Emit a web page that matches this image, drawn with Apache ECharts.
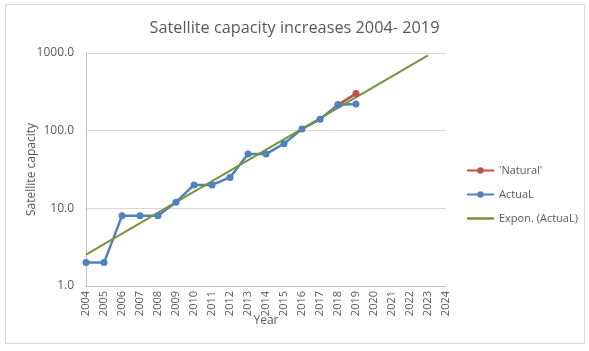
<!DOCTYPE html>
<html>
<head>
    <meta charset="utf-8" />
    <title>Satellite capacity</title>
    <script src="https://cdn.jsdelivr.net/npm/echarts@6/dist/echarts.min.js"></script>
    <style>
        html, body { margin: 0; padding: 0; background: #fff; }
        #EChart { width: 589px; height: 351px; }
    </style>
</head>
<body>
    <div id="EChart"></div>
    <script type="text/javascript">
        // data
        var years = [2004, 2005, 2006, 2007, 2008, 2009, 2010, 2011, 2012, 2013, 2014, 2015, 2016, 2017, 2018, 2019];
        var actual = [2, 2, 8, 8, 8, 12, 20, 20, 25, 50, 50, 68, 105, 140, 215, 220];
        var naturalYears = [2018, 2019];
        var natural = [215, 300];
        // trendline end points (straight on a log axis)
        var trendYears = [2004, 2023];
        var trend = [2.54, 930];

        function pairs(xs, ys) {
            return xs.map(function (x, i) { return [x, ys[i]]; });
        }

        var font = 'Open Sans';
        var grey = '#595959';

        var option = {
            animation: false,
            textStyle: { fontFamily: font },
            title: {
                text: 'Satellite capacity increases 2004- 2019',
                left: 'center',
                top: 15,
                textStyle: { fontFamily: font, fontSize: 16.3, fontWeight: 'normal', color: grey }
            },
            legend: {
                orient: 'vertical',
                left: 461,
                top: 160,
                itemWidth: 27,
                itemHeight: 8,
                itemGap: 13,
                textStyle: { fontSize: 11, color: grey },
                data: [
                    { name: "'Natural'" },
                    { name: 'ActuaL' },
                    { name: 'Expon. (ActuaL)', icon: 'path://M0,0 L27,0 L27,2.5 L0,2.5 Z' }
                ]
            },
            grid: { left: 86, right: 143, top: 53, bottom: 65 },
            xAxis: {
                type: 'value',
                min: 2004,
                max: 2024,
                interval: 1,
                name: 'Year',
                nameLocation: 'middle',
                nameGap: 29,
                nameMoveOverlap: false,
                nameTextStyle: { fontSize: 12, color: grey },
                axisLine: { lineStyle: { color: '#bfbfbf' } },
                axisTick: { show: false },
                splitLine: { show: false },
                axisLabel: {
                    rotate: 90, fontSize: 11, color: grey, margin: 5,
                    formatter: function (v) { return String(v); }
                }
            },
            yAxis: {
                type: 'log',
                logBase: 10,
                min: 1,
                max: 1000,
                name: 'Satellite capacity',
                nameLocation: 'middle',
                nameGap: 48,
                nameMoveOverlap: false,
                nameTextStyle: { fontSize: 12, color: grey },
                axisLine: { show: true, lineStyle: { color: '#bfbfbf' } },
                axisTick: { show: false },
                splitLine: { lineStyle: { color: '#d9d9d9' } },
                axisLabel: {
                    fontSize: 12, color: grey, margin: 12,
                    formatter: function (v) { return v.toFixed(1); }
                }
            },
            graphic: [{
                type: 'rect',
                shape: { x: 5.5, y: 4.5, width: 579, height: 339 },
                style: { fill: 'none', stroke: '#d9d9d9', lineWidth: 1 },
                silent: true
            }],
            series: [{
                name: "'Natural'",
                type: 'line',
                data: pairs(naturalYears, natural),
                color: '#C0504D',
                symbol: 'circle',
                symbolSize: 7,
                lineStyle: { width: 2.5 }
            }, {
                name: 'ActuaL',
                type: 'line',
                data: pairs(years, actual),
                color: '#4F81BD',
                symbol: 'circle',
                symbolSize: 7,
                lineStyle: { width: 2.5 }
            }, {
                name: 'Expon. (ActuaL)',
                type: 'line',
                data: pairs(trendYears, trend),
                color: '#77933C',
                symbol: 'none',
                lineStyle: { width: 2 }
            }]
        };

        var myChart = echarts.init(document.getElementById('EChart'));
        myChart.setOption(option);
    </script>
</body>
</html>
